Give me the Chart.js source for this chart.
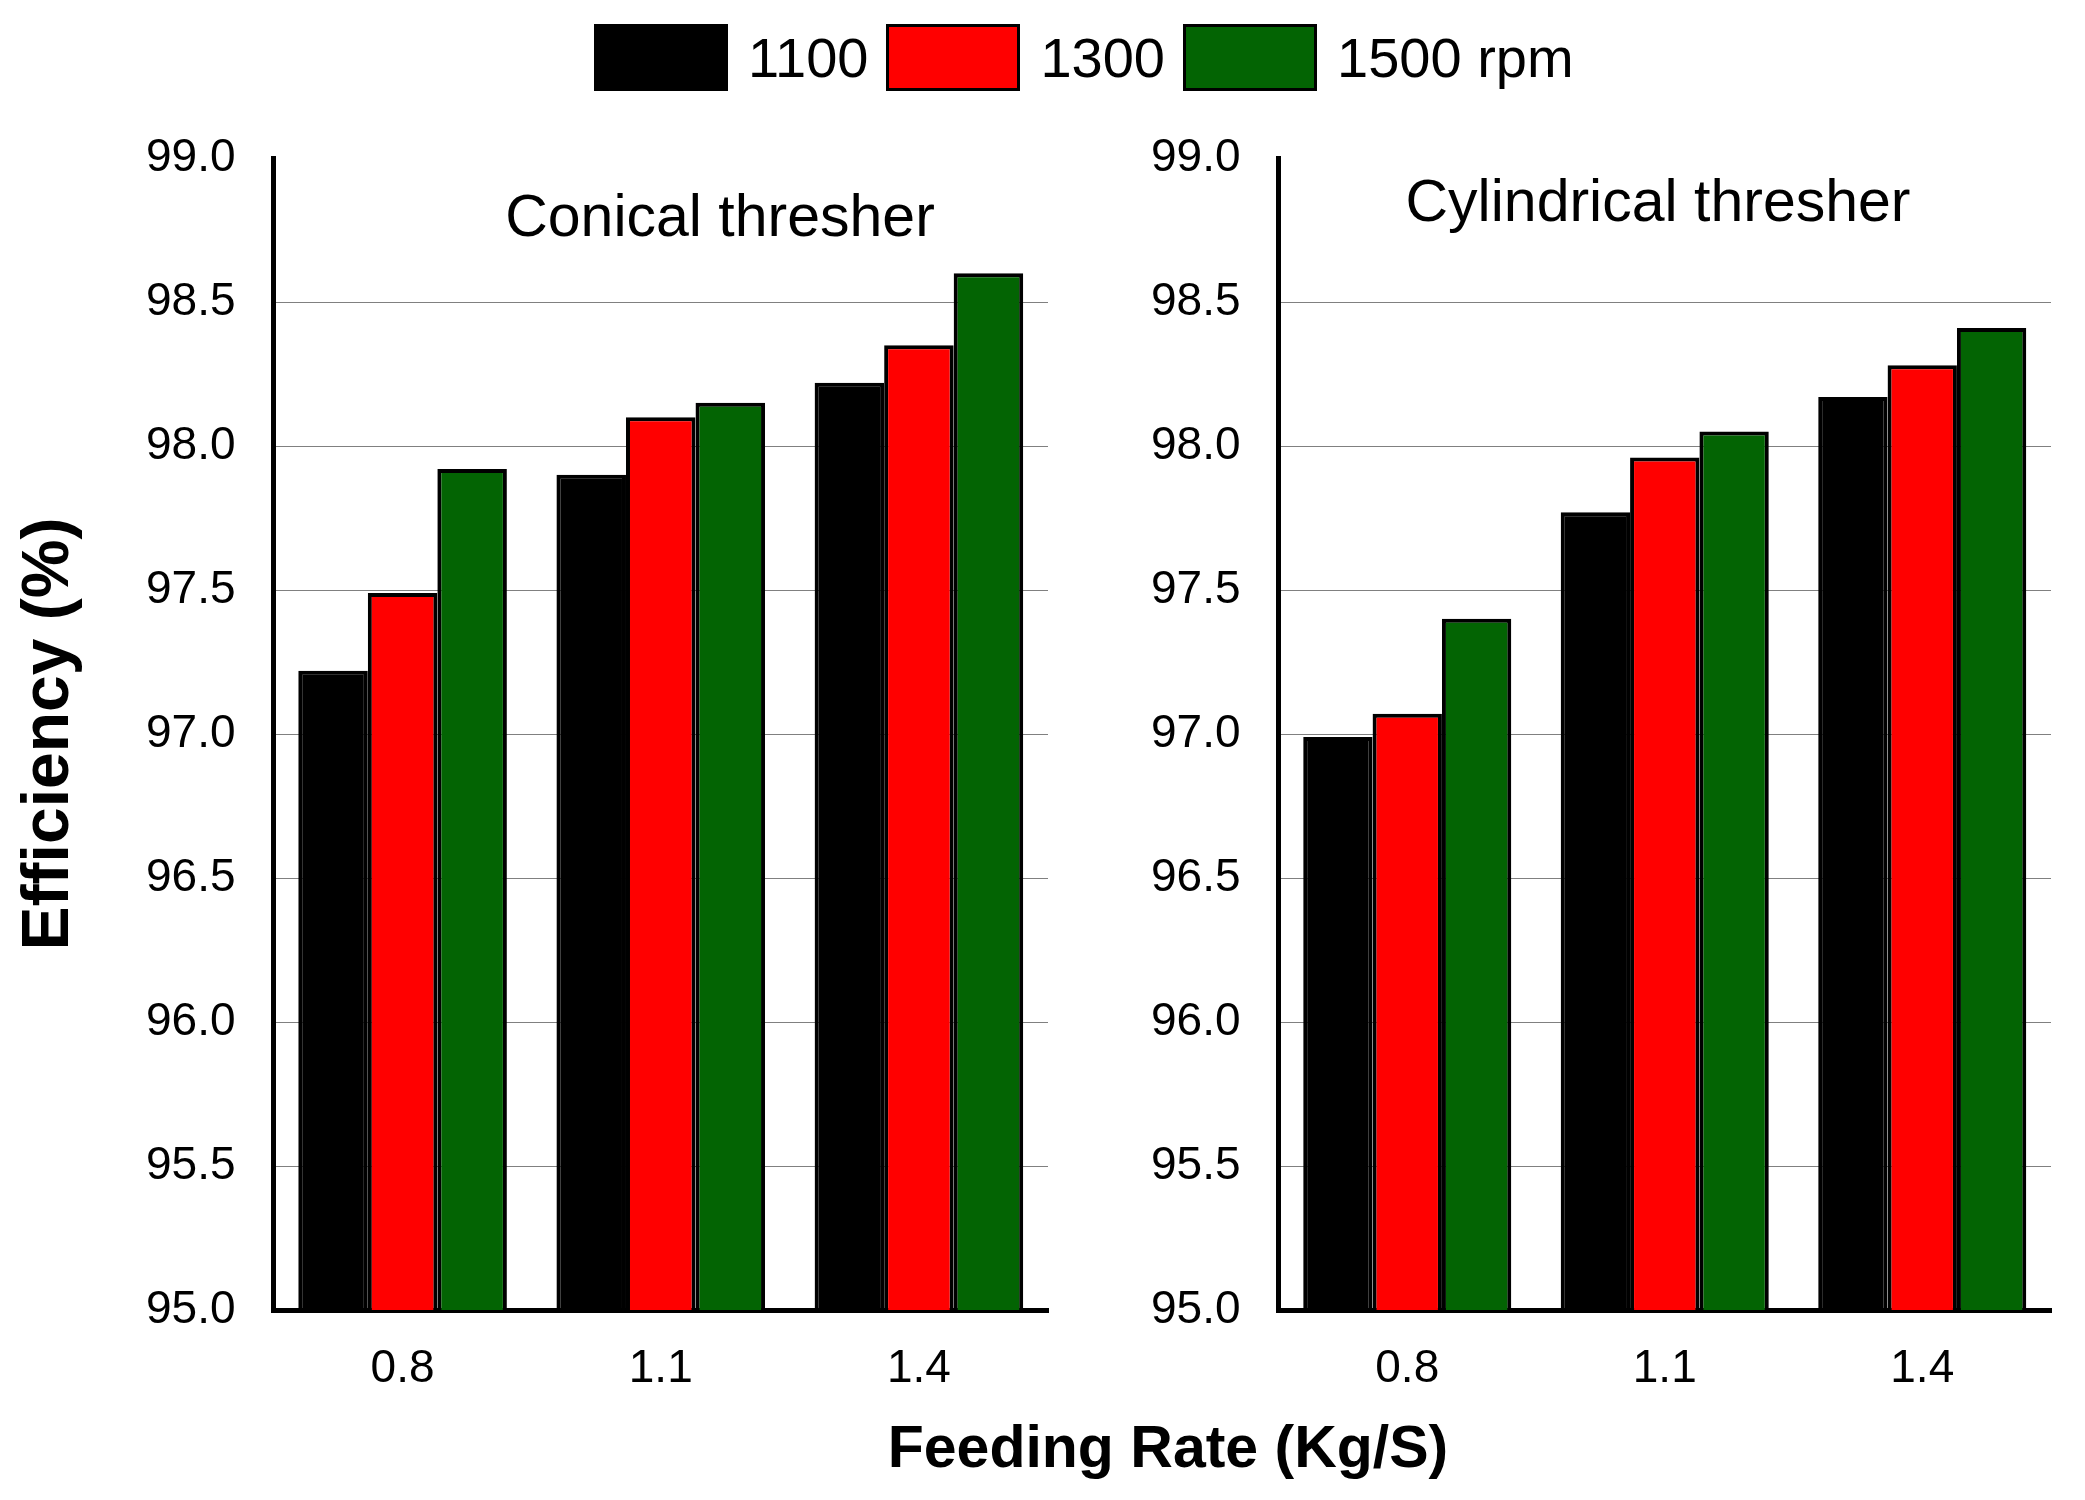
<!DOCTYPE html>
<html>
<head>
<meta charset="utf-8">
<script src="https://cdn.jsdelivr.net/npm/chart.js@4.4.0/dist/chart.umd.min.js"></script>
<style>
  body { margin: 0; background: #fff; width: 2085px; height: 1500px; position: relative; overflow: hidden;
         font-family: "Liberation Sans", Arial, sans-serif; color: #000; }
  canvas { position: absolute; top: 0; }
  #conicalChart { left: 0; }
  #cylChart { left: 1060px; }
  .panel-title { position: absolute; font-size: 59px; line-height: 1; transform: translateX(-50%); white-space: nowrap; }
  #xTitle { position: absolute; left: 1168px; top: 1418px; font-size: 59px; font-weight: bold; line-height: 1;
            transform: translateX(-50%); white-space: nowrap; }
  #legend { position: absolute; left: 594px; top: 24px; display: flex; align-items: center; }
  #legend .box { width: 134px; height: 67px; box-sizing: border-box; border: 3px solid #000; }
  #legend .lbl { font-size: 56px; line-height: 67px; margin: 0 18px 0 20px; white-space: nowrap; }
</style>
</head>
<body>
<div id="legend"></div>
<div class="panel-title" style="left:720px; top:187px;">Conical thresher</div>
<div class="panel-title" style="left:1658px; top:172px;">Cylindrical thresher</div>
<div id="xTitle">Feeding Rate (Kg/S)</div>
<canvas id="conicalChart" width="1060" height="1500"></canvas>
<canvas id="cylChart" width="1025" height="1500"></canvas>
<script>
// feeding rates on the x axis
const feedRates = ["0.8", "1.1", "1.4"];

// drum speeds
const speedLabels = ["1100", "1300", "1500 rpm"];
const speedColors = ["#000000", "#ff0000", "#036403"];

// conical thresher efficiency (%)
const conical1100 = [97.22, 97.90, 98.22];
const conical1300 = [97.49, 98.10, 98.35];
const conical1500 = [97.92, 98.15, 98.60];

// cylindrical thresher efficiency (%)
const cyl1100 = [96.99, 97.77, 98.17];
const cyl1300 = [97.07, 97.96, 98.28];
const cyl1500 = [97.40, 98.05, 98.41];

// y axis range
const yMin = 95;
const yMax = 99;
const yStep = 0.5;

const FONT = '"Liberation Sans", Arial, sans-serif';

// html legend
const legend = document.getElementById("legend");
speedLabels.forEach((label, i) => {
  const box = document.createElement("div");
  box.className = "box";
  box.style.background = speedColors[i];
  const txt = document.createElement("div");
  txt.className = "lbl";
  txt.textContent = label;
  legend.appendChild(box);
  legend.appendChild(txt);
});

function makeChart(id, series, yWidth, padRight, showTitle) {
  const ctx = document.getElementById(id).getContext("2d");
  return new Chart(ctx, {
    type: "bar",
    data: {
      labels: feedRates,
      datasets: series.map((values, i) => ({
        label: speedLabels[i],
        data: values,
        backgroundColor: speedColors[i],
        borderColor: "#000",
        borderWidth: 4,
        categoryPercentage: 0.808,
        barPercentage: 1.0
      }))
    },
    options: {
      responsive: false,
      animation: false,
      devicePixelRatio: 1,
      layout: { padding: { top: 158, right: padRight, bottom: 0, left: 0 } },
      plugins: {
        legend: { display: false },
        tooltip: { enabled: false }
      },
      scales: {
        x: {
          grid: { display: false, drawTicks: false },
          border: { color: "#000", width: 5 },
          ticks: { color: "#000", font: { family: FONT, size: 46 }, padding: 32 },
          afterFit: s => { s.height = 190; }
        },
        y: {
          min: yMin,
          max: yMax,
          grid: {
            color: c => (c.tick && c.tick.value >= yMax) ? "rgba(0,0,0,0)" : "#808080",
            lineWidth: 1,
            drawTicks: false
          },
          border: { color: "#000", width: 5 },
          ticks: {
            stepSize: yStep,
            color: "#000",
            padding: 38,
            font: { family: FONT, size: 46 },
            callback: v => v.toFixed(1)
          },
          title: {
            display: showTitle,
            text: "Efficiency (%)",
            color: "#000",
            font: { family: FONT, size: 66, weight: "bold" },
            padding: { top: 10, bottom: 0 }
          },
          afterFit: s => { s.width = yWidth; }
        }
      }
    }
  });
}

makeChart("conicalChart", [conical1100, conical1300, conical1500], 273.5, 12, true);
makeChart("cylChart", [cyl1100, cyl1300, cyl1500], 218.5, 34, false);
</script>
</body>
</html>
